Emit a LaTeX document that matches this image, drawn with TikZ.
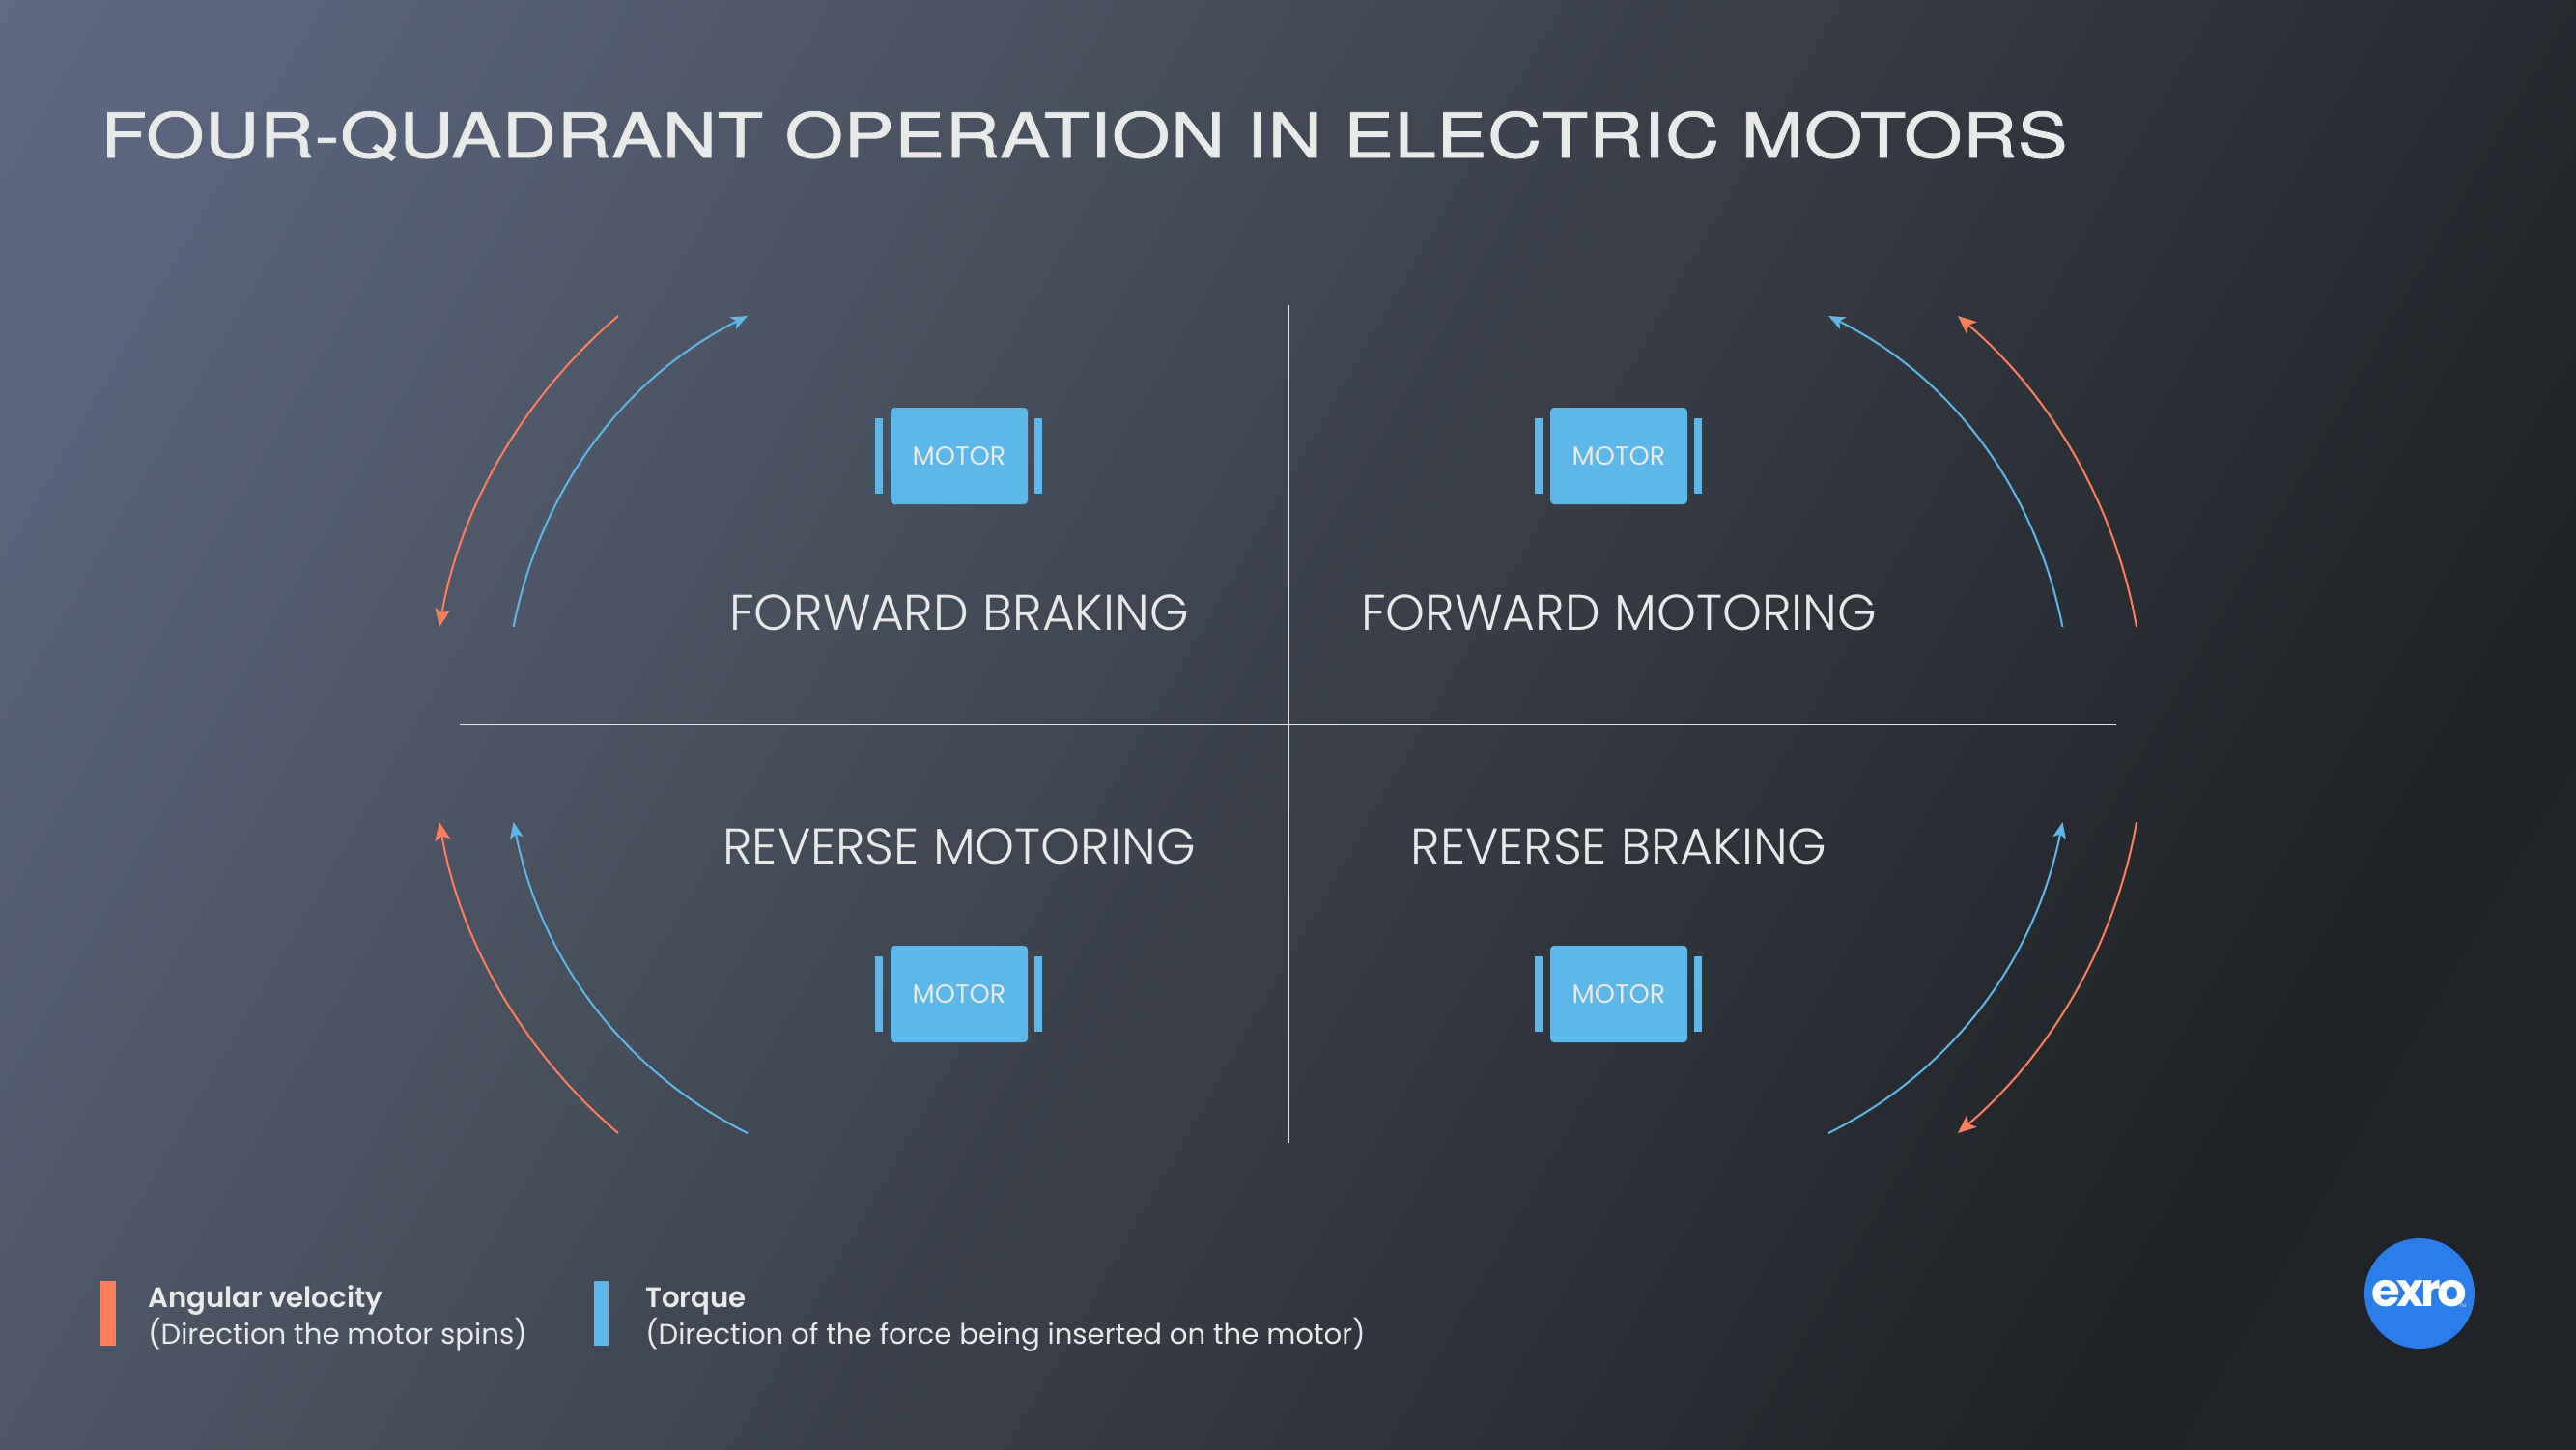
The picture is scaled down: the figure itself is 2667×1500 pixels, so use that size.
\documentclass[tikz,border=0pt]{standalone}
\usepackage{fontspec}
\usetikzlibrary{arrows.meta}
\setmainfont{Poppins}[UprightFont=* Light,BoldFont=* SemiBold]
\newfontfamily\regfont{Poppins}
\newfontfamily\titlefont{TeX Gyre Heros}[FakeStretch=1.215,FakeBold=1.2,LetterSpace=1]
\newfontfamily\logofont{Poppins}[UprightFont=* Bold,LetterSpace=-7]
\definecolor{bgA}{HTML}{5F6A86}
\definecolor{bgL}{HTML}{4B5362}
\definecolor{bgM}{HTML}{383D47}
\definecolor{bgB}{HTML}{1F2327}
\definecolor{bgC}{HTML}{212529}
\definecolor{ink}{HTML}{E8E9E9}
\definecolor{axisc}{HTML}{D8E2E8}
\definecolor{torquec}{HTML}{5DB7E8}
\definecolor{velc}{HTML}{FF7F5C}
\definecolor{logoc}{HTML}{2B7DE9}
\pgfdeclarehorizontalshading{bggrad}{1800bp}{color(0bp)=(bgA);color(454bp)=(bgL);color(816bp)=(bgM);color(1290bp)=(bgB);color(1530bp)=(bgC)}
\tikzset{
  vel/.style={draw=velc,line width=1pt,-{Stealth[length=9.5pt,width=8pt,inset=2.2pt]}},
  tor/.style={draw=torquec,line width=1pt,-{Stealth[length=8.5pt,width=7pt,inset=2.2pt]}},
  axisline/.style={draw=axisc,line width=1pt},
  motorbody/.style={fill=torquec,rounded corners=2pt,inner sep=0pt,minimum width=71pt,minimum height=50pt,font=\regfont\fontsize{13.5}{13.5}\selectfont,text=ink},
  motorbar/.style={fill=torquec},
  quad/.style={text=ink,font=\fontsize{26}{26}\selectfont,inner sep=0pt,anchor=base},
  legend/.style={text=ink,align=left,anchor=base west,inner sep=0pt,font=\fontsize{14.6}{19}\selectfont}
}
\begin{document}
\begin{tikzpicture}[x=0.5pt,y=-0.5pt]
\useasboundingbox (0,0) rectangle (2667,1500);
\begin{scope}
\clip (0,0) rectangle (2667,1500);
\node[rotate=-30,inner sep=0pt] (bg) at (1333.5,750) {\pgfuseshading{bggrad}};
\end{scope}
\node[text=ink,inner sep=0pt,anchor=base west,font=\titlefont\fontsize{32}{32}\selectfont] (title) at (104,163) {FOUR-QUADRANT OPERATION IN ELECTRIC MOTORS};
% axes
\coordinate (vtop) at (1333.5,316);\coordinate (vbot) at (1333.5,1183);
\coordinate (hleft) at (476,750);\coordinate (hright) at (2191,750);
\draw[axisline] (vtop) -- (vbot);
\draw[axisline] (hleft) -- (hright);
% motors
\foreach \n/\cx/\cy in {a/993/472,b/1676/472,c/993/1029,d/1676/1029}{
  \fill[motorbar] (\cx-87,\cy-39) rectangle (\cx-79,\cy+39);
  \fill[motorbar] (\cx+78,\cy-39) rectangle (\cx+86,\cy+39);
  \node[motorbody] (motor\n) at (\cx,\cy) {MOTOR};
}
% labels
\node[quad] (fb) at (993,652.5) {FORWARD BRAKING};
\node[quad] (fm) at (1676,652.5) {FORWARD MOTORING};
\node[quad] (rm) at (993,894.5) {REVERSE MOTORING};
\node[quad] (rb) at (1676,894.5) {REVERSE BRAKING};
% arcs
\coordinate (tlo1) at (640,327);\coordinate (tlo2) at (455,649);
\coordinate (tlb1) at (531.6,649);\coordinate (tlb2) at (774,327);
\coordinate (tro1) at (2212,649);\coordinate (tro2) at (2027,327);
\coordinate (trb1) at (2135.4,649);\coordinate (trb2) at (1893,327);
\coordinate (blo1) at (640,1173);\coordinate (blo2) at (455,851);
\coordinate (blb1) at (774,1173);\coordinate (blb2) at (531.6,851);
\coordinate (bro1) at (2212,851);\coordinate (bro2) at (2027,1173);
\coordinate (brb1) at (1893,1173);\coordinate (brb2) at (2135.4,851);
\draw[vel] (tlo1) .. controls (543,410) and (477,523) .. (tlo2);
\draw[tor] (tlb1) .. controls (559,511) and (642,393) .. (tlb2);
\draw[vel] (tro1) .. controls (2190,523) and (2124,410) .. (tro2);
\draw[tor] (trb1) .. controls (2108,511) and (2025,393) .. (trb2);
\draw[vel] (blo1) .. controls (543,1090) and (477,977) .. (blo2);
\draw[tor] (blb1) .. controls (642,1107) and (559,989) .. (blb2);
\draw[vel] (bro1) .. controls (2190,977) and (2124,1090) .. (bro2);
\draw[tor] (brb1) .. controls (2025,1107) and (2108,989) .. (brb2);
% legend
\fill[velc] (104,1326) rectangle (119.5,1393);
\fill[torquec] (615,1326) rectangle (630,1393);
\node[legend] (lv) at (153,1391) {\textbf{Angular velocity}\\{\regfont (Direction the motor spins)}};
\node[legend] (lt) at (668,1391) {\textbf{Torque}\\{\regfont (Direction of the force being inserted on the motor)}};
% logo
\fill[logoc] (2505,1339) circle (57);
\node[text=white,inner sep=0pt,font=\logofont\fontsize{24}{24}\selectfont] (logo) at (2505,1339) {exro};
\node[text=white,inner sep=0pt,font=\fontsize{2.5}{3}\selectfont] (tm) at (2550,1352) {TM};
\end{tikzpicture}
\end{document}
